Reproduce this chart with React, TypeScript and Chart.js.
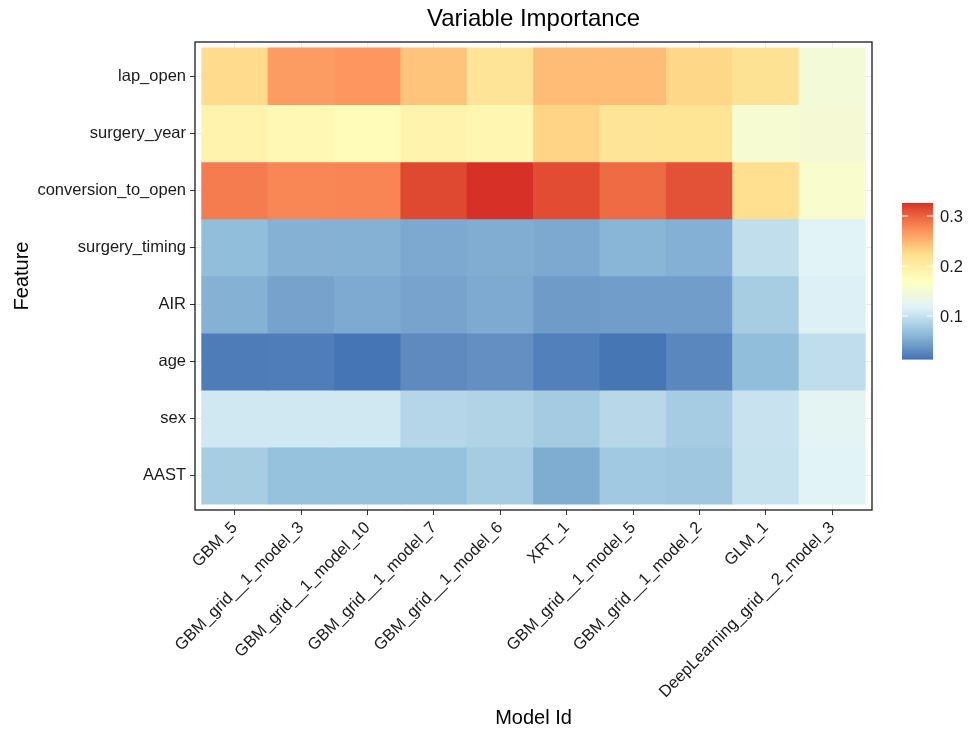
import React, { useEffect, useRef } from "react";
import { Chart, registerables } from "chart.js";

Chart.register(...registerables);

const TITLE = "Variable Importance";
const X_TITLE = "Model Id";
const Y_TITLE = "Feature";

const MODELS = [
  "GBM_5",
  "GBM_grid__1_model_3",
  "GBM_grid__1_model_10",
  "GBM_grid__1_model_7",
  "GBM_grid__1_model_6",
  "XRT_1",
  "GBM_grid__1_model_5",
  "GBM_grid__1_model_2",
  "GLM_1",
  "DeepLearning_grid__2_model_3",
];

// top-to-bottom order
const FEATURES = [
  "lap_open",
  "surgery_year",
  "conversion_to_open",
  "surgery_timing",
  "AIR",
  "age",
  "sex",
  "AAST",
];

const LAP_OPEN = [0.225, 0.265, 0.268, 0.24, 0.215, 0.245, 0.245, 0.228, 0.218, 0.148];
const SURGERY_YEAR = [0.19, 0.182, 0.175, 0.19, 0.185, 0.23, 0.215, 0.216, 0.154, 0.15];
const CONVERSION_TO_OPEN = [0.285, 0.278, 0.279, 0.315, 0.326, 0.313, 0.295, 0.31, 0.222, 0.158];
const SURGERY_TIMING = [0.066, 0.057, 0.057, 0.051, 0.054, 0.051, 0.06, 0.056, 0.097, 0.12];
const AIR = [0.057, 0.046, 0.052, 0.047, 0.052, 0.041, 0.043, 0.043, 0.08, 0.115];
const AGE = [0.0195, 0.02, 0.014, 0.0296, 0.033, 0.022, 0.015, 0.027, 0.066, 0.096];
const SEX = [0.107, 0.107, 0.107, 0.089, 0.086, 0.078, 0.091, 0.079, 0.102, 0.123];
const AAST = [0.08, 0.069, 0.069, 0.069, 0.079, 0.053, 0.076, 0.075, 0.101, 0.12];

const ROWS = [LAP_OPEN, SURGERY_YEAR, CONVERSION_TO_OPEN, SURGERY_TIMING, AIR, AGE, SEX, AAST];

const LEGEND_TICKS = [0.1, 0.2, 0.3];

const PALETTE = ["#4575B4", "#91BFDB", "#E0F3F8", "#FFFFBF", "#FEE090", "#FC8D59", "#D73027"];

const FONT = "'Liberation Sans', Arial, 'DejaVu Sans', sans-serif";

function hexToRgb(h: string): number[] {
  const n = parseInt(h.slice(1), 16);
  return [(n >> 16) & 255, (n >> 8) & 255, n & 255];
}
function toLin(c: number) {
  c /= 255;
  return c <= 0.04045 ? c / 12.92 : Math.pow((c + 0.055) / 1.055, 2.4);
}
function fromLin(c: number) {
  const v = c <= 0.0031308 ? 12.92 * c : 1.055 * Math.pow(Math.max(c, 0), 1 / 2.4) - 0.055;
  return Math.round(Math.max(0, Math.min(1, v)) * 255);
}
function rgbToLab(rgb: number[]): number[] {
  const R = toLin(rgb[0]), G = toLin(rgb[1]), B = toLin(rgb[2]);
  const X = (0.4124564 * R + 0.3575761 * G + 0.1804375 * B) / 0.95047;
  const Y = 0.2126729 * R + 0.7151522 * G + 0.072175 * B;
  const Z = (0.0193339 * R + 0.119192 * G + 0.9503041 * B) / 1.08883;
  const f = (t: number) => (t > 216 / 24389 ? Math.cbrt(t) : ((24389 / 27) * t + 16) / 116);
  const fx = f(X), fy = f(Y), fz = f(Z);
  return [116 * fy - 16, 500 * (fx - fy), 200 * (fy - fz)];
}
function labToRgb(lab: number[]): number[] {
  const fy = (lab[0] + 16) / 116;
  const fx = fy + lab[1] / 500;
  const fz = fy - lab[2] / 200;
  const finv = (t: number) => (t * t * t > 216 / 24389 ? t * t * t : (116 * t - 16) / (24389 / 27));
  const X = finv(fx) * 0.95047, Y = finv(fy), Z = finv(fz) * 1.08883;
  const R = 3.2404542 * X - 1.5371385 * Y - 0.4985314 * Z;
  const G = -0.969266 * X + 1.8760108 * Y + 0.041556 * Z;
  const B = 0.0556434 * X - 0.2040259 * Y + 1.0572252 * Z;
  return [fromLin(R), fromLin(G), fromLin(B)];
}
const PAL_LAB = PALETTE.map((h) => rgbToLab(hexToRgb(h)));

const ALL = ROWS.flat();
const VMIN = Math.min(...ALL);
const VMAX = Math.max(...ALL);

function colorFor(v: number): string {
  let t = (v - VMIN) / (VMAX - VMIN);
  t = Math.max(0, Math.min(1, t));
  const seg = t * (PAL_LAB.length - 1);
  const i = Math.min(Math.floor(seg), PAL_LAB.length - 2);
  const f = seg - i;
  const a = PAL_LAB[i], b = PAL_LAB[i + 1];
  const lab = [a[0] + (b[0] - a[0]) * f, a[1] + (b[1] - a[1]) * f, a[2] + (b[2] - a[2]) * f];
  const rgb = labToRgb(lab);
  return `rgb(${rgb[0]},${rgb[1]},${rgb[2]})`;
}

const panelBorderPlugin = {
  id: "panelBorder",
  afterDatasetsDraw(chart: any) {
    const { ctx, chartArea } = chart;
    ctx.save();
    ctx.strokeStyle = "#1a1a1a";
    ctx.lineWidth = 1.3;
    ctx.strokeRect(chartArea.left, chartArea.top, chartArea.right - chartArea.left, chartArea.bottom - chartArea.top);
    ctx.restore();
  },
};

const colorbarPlugin = {
  id: "colorbar",
  afterDraw(chart: any) {
    const { ctx, chartArea } = chart;
    const x = chartArea.right + 30;
    const w = 31;
    const h = 156;
    const top = chartArea.top + 161;
    const n = 156;
    ctx.save();
    for (let i = 0; i < n; i++) {
      const v = VMAX - ((i + 0.5) / n) * (VMAX - VMIN);
      ctx.fillStyle = colorFor(v);
      ctx.fillRect(x, top + (i * h) / n, w, h / n + 0.6);
    }
    ctx.strokeStyle = "#ffffff";
    ctx.lineWidth = 1.2;
    ctx.fillStyle = "#1a1a1a";
    ctx.font = `16.5px ${FONT}`;
    ctx.textBaseline = "middle";
    ctx.textAlign = "left";
    LEGEND_TICKS.forEach((tv) => {
      const y = top + ((VMAX - tv) / (VMAX - VMIN)) * h;
      ctx.beginPath();
      ctx.moveTo(x, y);
      ctx.lineTo(x + 6, y);
      ctx.moveTo(x + w - 6, y);
      ctx.lineTo(x + w, y);
      ctx.stroke();
      ctx.fillText(String(tv), x + w + 7, y + 1);
    });
    ctx.restore();
  },
};

export default function App() {
  const ref = useRef<HTMLCanvasElement>(null);
  useEffect(() => {
    const canvas = ref.current;
    if (!canvas) return;
    Chart.defaults.font.family = FONT;
    const datasets = ROWS.map((row, i) => ({
      label: FEATURES[i],
      data: row.map((_v, j) => ({ x: j + 1, y: [i + 0.5, i + 1.5] })),
      backgroundColor: row.map((v) => colorFor(v)),
      borderWidth: 0,
      grouped: false,
      barPercentage: 1,
      categoryPercentage: 1,
    }));
    const chart = new Chart(canvas, {
      type: "bar",
      data: { datasets: datasets as any },
      options: {
        responsive: false,
        animation: false,
        devicePixelRatio: 1,
        layout: { padding: { left: 0, right: 106, top: 0, bottom: 0 } },
        plugins: {
          legend: { display: false },
          tooltip: { enabled: false },
          title: {
            display: true,
            text: TITLE,
            fullSize: false,
            color: "#000",
            font: { size: 24, weight: "normal", family: FONT, lineHeight: 1.2 },
            padding: { top: 5, bottom: 8.2 },
          },
        },
        scales: {
          x: {
            type: "linear",
            min: 0.4,
            max: 10.6,
            offset: false,
            grid: { offset: false, color: "#EBEBEB", tickColor: "#333", tickLength: 5, lineWidth: 1 },
            border: { display: false },
            afterBuildTicks: (scale: any) => {
              scale.ticks = MODELS.map((_m, i) => ({ value: i + 1 }));
            },
            afterFit: (scale: any) => {
              scale.height = 222;
            },
            ticks: {
              autoSkip: false,
              minRotation: 45,
              maxRotation: 45,
              padding: 3,
              color: "#1a1a1a",
              font: { size: 16.5, family: FONT },
              callback: (v: any) => MODELS[Math.round(Number(v)) - 1] ?? "",
            },
            title: {
              display: true,
              text: X_TITLE,
              color: "#000",
              font: { size: 20, family: FONT },
              padding: { top: 0, bottom: 2 },
            },
          },
          y: {
            type: "linear",
            min: 0.4,
            max: 8.6,
            reverse: true,
            grid: { color: "#EBEBEB", tickColor: "#333", tickLength: 5, lineWidth: 1 },
            border: { display: false },
            afterBuildTicks: (scale: any) => {
              scale.ticks = FEATURES.map((_f, i) => ({ value: i + 1 }));
            },
            afterFit: (scale: any) => {
              scale.width = 195;
            },
            ticks: {
              autoSkip: false,
              padding: 4,
              color: "#1a1a1a",
              font: { size: 16.5, family: FONT },
              callback: (v: any) => FEATURES[Math.round(Number(v)) - 1] ?? "",
            },
            title: {
              display: true,
              text: Y_TITLE,
              color: "#000",
              font: { size: 20, family: FONT },
              padding: { top: 10, bottom: 0 },
            },
          },
        },
      },
      plugins: [panelBorderPlugin, colorbarPlugin],
    });
    return () => chart.destroy();
  }, []);
  return (
    <div style={{ position: "absolute", left: 0, top: 0, width: 978, height: 732, background: "#fff" }}>
      <canvas ref={ref} width={978} height={732} style={{ display: "block", width: 978, height: 732 }} />
    </div>
  );
}
